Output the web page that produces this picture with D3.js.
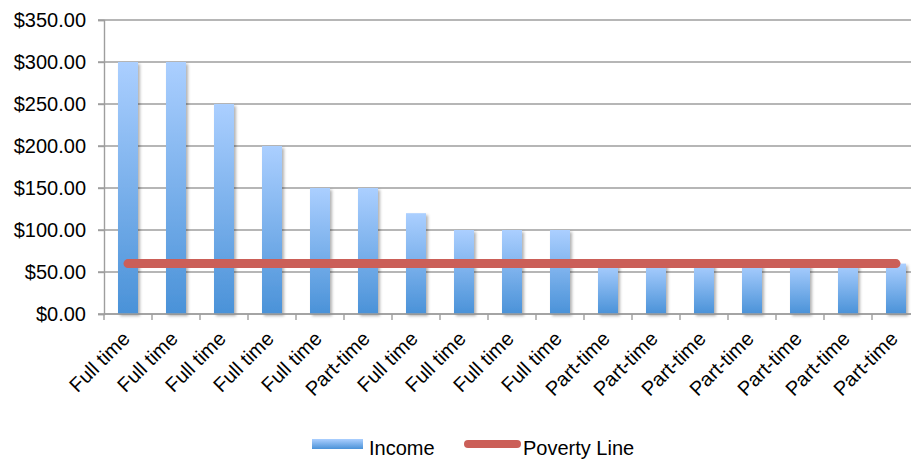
<!DOCTYPE html>
<html>
<head>
<meta charset="utf-8">
<script src="https://cdn.jsdelivr.net/npm/d3@7"></script>
<style>
  body { margin: 0; background: #fff; }
  text { font-family: "Liberation Sans", Arial, Helvetica, sans-serif; fill: #000; }
</style>
</head>
<body>
<div id="chart"></div>
<script>
// chart data
var categories = ["Full time", "Full time", "Full time", "Full time", "Full time", "Part-time",
  "Full time", "Full time", "Full time", "Full time", "Part-time", "Part-time", "Part-time",
  "Part-time", "Part-time", "Part-time", "Part-time"];
var income = [300, 300, 250, 200, 150, 150, 120, 100, 100, 100, 60, 60, 60, 60, 60, 60, 60];
var povertyLine = [60, 60, 60, 60, 60, 60, 60, 60, 60, 60, 60, 60, 60, 60, 60, 60, 60];
var yTicks = [0, 50, 100, 150, 200, 250, 300, 350];
var seriesNames = ["Income", "Poverty Line"];

var svgWidth = 911;
var svgHeight = 459;

var svg = d3.select("#chart")
  .append("svg")
  .attr("width", svgWidth)
  .attr("height", svgHeight);

var defs = svg.append("defs");

var grad = defs.append("linearGradient")
  .attr("id", "barGrad")
  .attr("x1", 0).attr("y1", 0)
  .attr("x2", 0).attr("y2", 1);
grad.append("stop").attr("offset", "0%").attr("stop-color", "#abcfff");
grad.append("stop").attr("offset", "100%").attr("stop-color", "#4a92d8");

var shadow = defs.append("filter")
  .attr("id", "barShadow")
  .attr("x", "-50%").attr("y", "-10%")
  .attr("width", "200%").attr("height", "130%");
shadow.append("feDropShadow")
  .attr("dx", 2).attr("dy", 2)
  .attr("stdDeviation", 1.8)
  .attr("flood-color", "#000")
  .attr("flood-opacity", 0.3);

// scales
var x = d3.scaleBand()
  .domain(d3.range(categories.length))
  .range([104, 920])
  .paddingInner(28 / 48)
  .paddingOuter(14 / 48);

var xStep = d3.scaleBand()
  .domain(d3.range(categories.length))
  .range([104, 920]);

var y = d3.scaleLinear()
  .domain([0, 350])
  .range([314, 20]);

// gridlines
svg.append("g")
  .selectAll("line")
  .data(yTicks)
  .enter()
  .append("line")
  .attr("x1", 98)
  .attr("x2", 920)
  .attr("y1", d => y(d))
  .attr("y2", d => y(d))
  .attr("stroke", "#9e9e9e")
  .attr("stroke-width", 1.4);

// y axis
var yAxis = svg.append("g")
  .attr("transform", "translate(104,0)")
  .call(d3.axisLeft(y).tickValues(yTicks).tickSize(6).tickPadding(12)
    .tickFormat(d => "$" + d3.format(".2f")(d)));
yAxis.select(".domain").attr("stroke", "#9e9e9e").attr("stroke-width", 1.4);
yAxis.selectAll(".tick line").attr("stroke", "#9e9e9e").attr("stroke-width", 1.4);
yAxis.selectAll(".tick text")
  .style("font-size", "20px")
  .attr("fill", "#000");

// bars
svg.append("g")
  .selectAll("rect")
  .data(income)
  .enter()
  .append("rect")
  .attr("x", (d, i) => x(i))
  .attr("y", d => y(d))
  .attr("width", x.bandwidth())
  .attr("height", d => y(0) - y(d))
  .attr("fill", "url(#barGrad)")
  .attr("filter", "url(#barShadow)");

// x axis (ticks at band edges)
var edges = d3.range(categories.length + 1).map(i => 104 + i * xStep.step());
svg.append("line")
  .attr("x1", 104).attr("x2", 920)
  .attr("y1", y(0)).attr("y2", y(0))
  .attr("stroke", "#9e9e9e").attr("stroke-width", 1.4);
svg.append("g")
  .selectAll("line")
  .data(edges)
  .enter()
  .append("line")
  .attr("x1", d => d).attr("x2", d => d)
  .attr("y1", y(0)).attr("y2", y(0) + 6)
  .attr("stroke", "#9e9e9e").attr("stroke-width", 1.4);

// x labels
svg.append("g")
  .selectAll("text")
  .data(categories)
  .enter()
  .append("text")
  .attr("text-anchor", "end")
  .style("font-size", "20px")
  .attr("transform", (d, i) => {
    var cx = x(i) + x.bandwidth() / 2 + 3;
    return "translate(" + cx + "," + (y(0) + 26) + ") rotate(-45)";
  })
  .text(d => d);

// poverty line
var line = d3.line()
  .x((d, i) => x(i) + x.bandwidth() / 2)
  .y(d => y(d));

svg.append("path")
  .datum(povertyLine)
  .attr("d", line)
  .attr("fill", "none")
  .attr("stroke", "#cb5f58")
  .attr("stroke-width", 9)
  .attr("stroke-linecap", "round");

// legend
var legend = svg.append("g");
legend.append("rect")
  .attr("x", 312).attr("y", 439)
  .attr("width", 51).attr("height", 10)
  .attr("fill", "url(#barGrad)");
legend.append("text")
  .attr("x", 369).attr("y", 455)
  .style("font-size", "20px")
  .text(seriesNames[0]);
legend.append("line")
  .attr("x1", 468).attr("x2", 517)
  .attr("y1", 444).attr("y2", 444)
  .attr("stroke", "#cb5f58")
  .attr("stroke-width", 8)
  .attr("stroke-linecap", "round");
legend.append("text")
  .attr("x", 523).attr("y", 455)
  .style("font-size", "20px")
  .text(seriesNames[1]);
</script>
</body>
</html>
